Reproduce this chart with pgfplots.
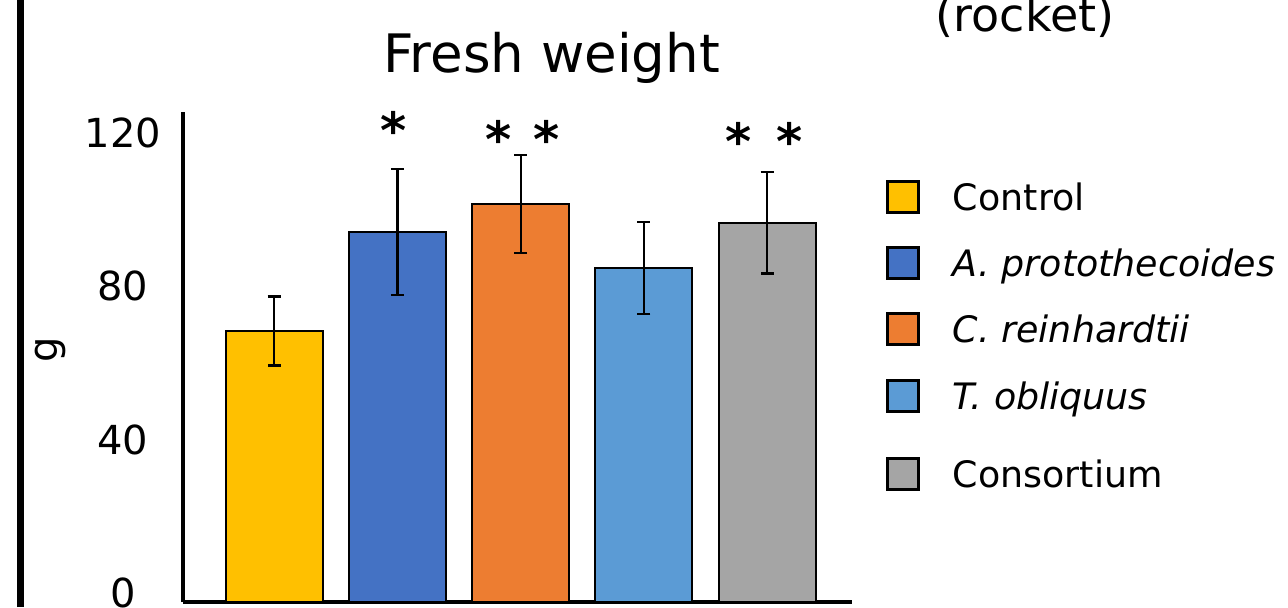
\documentclass[border=0pt]{standalone}
\usepackage{fontspec}
\setmainfont{DejaVu Sans}
\usepackage{pgfplots}
\pgfplotsset{compat=1.18}
\definecolor{cCtrl}{HTML}{FFC000}
\definecolor{cA}{HTML}{4472C4}
\definecolor{cC}{HTML}{ED7D31}
\definecolor{cT}{HTML}{5B9BD5}
\definecolor{cCons}{HTML}{A5A5A5}
\pgfplotsset{
  sqleg/.style={legend image code/.code={\draw[##1, draw=black, line width=1.5pt] (0pt,-7.75pt) rectangle (15.5pt,7.75pt);}},
  sqlegdown/.style={legend image code/.code={\path (0pt,14pt); \draw[##1, draw=black, line width=1.5pt] (0pt,-7.75pt) rectangle (15.5pt,7.75pt);}},
  mybar/.style={ybar, bar width=48.5pt, bar shift=0pt, draw=black, line width=1pt,
    error bars/y dir=both, error bars/y explicit,
    error bars/error mark=-,
    error bars/error bar style={line width=1.2pt, black},
    error bars/error mark options={rotate=90, mark size=3.25pt, line width=1.2pt, black}},
}
\begin{document}
\begin{tikzpicture}
\useasboundingbox (0,0) rectangle (644pt,303.5pt);
\draw[line width=3.5pt] (10.25pt,0pt) -- (10.25pt,303.5pt);
\begin{axis}[
  at={(91.5pt,2.5pt)}, anchor=south west,
  scale only axis, width=334.5pt, height=245pt,
  xmin=-0.74, xmax=4.688, ymin=0, ymax=127.8,
  axis x line*=bottom, axis y line*=left,
  axis line style={line width=2pt},
  xtick=\empty, ytick={0,40,80,120},
  major tick length=0pt,
  clip=false,
  /pgf/number format/assume math mode=true,
  yticklabel style={anchor=center, xshift=-30pt, yshift=4.5pt, font=\fontsize{20}{20}\selectfont},
  ylabel={g},
  ylabel style={at={(axis description cs:-0.1985,0.514)}, anchor=center, font=\fontsize{20}{20}\selectfont},
  title={Fresh weight},
  title style={at={(axis description cs:0.5508,1.057)}, anchor=base, font=\fontsize{26.5}{26.5}\selectfont},
  legend style={at={(axis description cs:1.0508,0.8612)}, anchor=north west, draw=none, fill=none,
    inner sep=0pt, outer sep=0pt, row sep=16.1pt, column sep=16.5pt,
    font=\fontsize{18.2}{18.2}\selectfont,
    nodes={inner sep=0pt, text height=13.5pt, text depth=0pt}},
  legend cell align=left,
]
\addplot[mybar, fill=cCtrl, sqleg] coordinates {(0,70.7) +- (0,9.0)};
\addlegendentry{Control}
\addplot[mybar, fill=cA, sqleg] coordinates {(1,96.5) +- (0,16.5)};
\addlegendentry{\textit{A. protothecoides}}
\addplot[mybar, fill=cC, sqleg] coordinates {(2,103.8) +- (0,12.8)};
\addlegendentry{\textit{C. reinhardtii}}
\addplot[mybar, fill=cT, sqleg] coordinates {(3,87.1) +- (0,12.0)};
\addlegendentry{\textit{T. obliquus}}
\addplot[mybar, fill=cCons, sqlegdown] coordinates {(4,98.9) +- (0,13.2)};
\addlegendentry{Consortium}
\node[anchor=base, yshift=-13pt, font=\fontsize{25}{25}\selectfont\bfseries] at (axis cs:0.972,125.0) {*};
\node[anchor=base, yshift=-13pt, font=\fontsize{25}{25}\selectfont\bfseries] at (axis cs:2.015,122.8) {*\hspace{10.5pt}*};
\node[anchor=base, yshift=-13pt, font=\fontsize{25}{25}\selectfont\bfseries] at (axis cs:3.975,122.1) {*\hspace{12pt}*};
\end{axis}
\node[anchor=base, font=\fontsize{23}{23}\selectfont] at (512.5pt,288pt) {(rocket)};
\end{tikzpicture}
\end{document}
